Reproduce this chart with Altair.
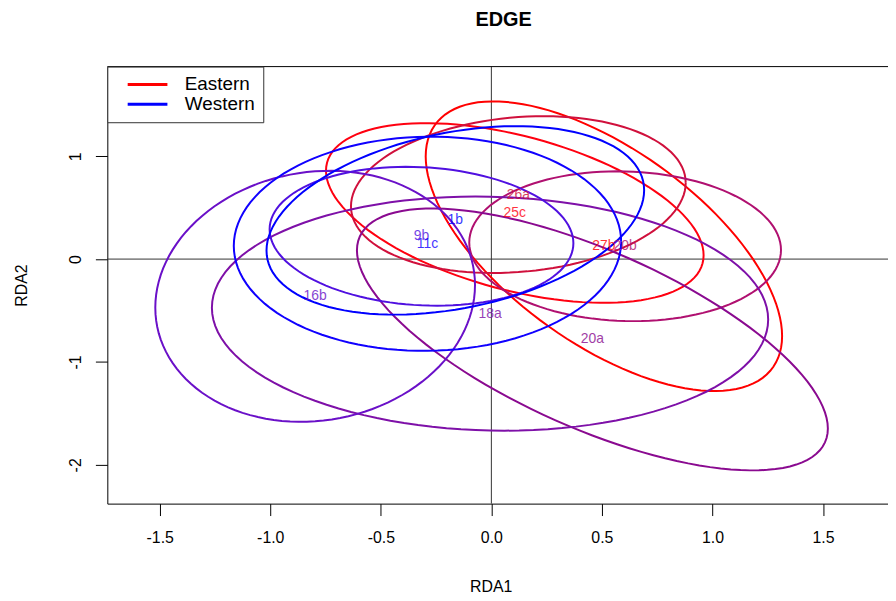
import altair as alt
import numpy as np
import pandas as pd

# ---- data ----
groups = ["27b", "25c", "26a", "20b", "20a", "18a", "16b", "9b", "11c", "1b"]
colors = ["#FF0000", "#FF0010", "#D0103C", "#B01070", "#8A0A90",
          "#7E10A8", "#6A10C8", "#5010E0", "#1000FF", "#0000FF"]
# ellipse centres (RDA1, RDA2)
cx = [0.509, 0.106, 0.122, 0.605, 0.457, -0.006, -0.797, -0.316, -0.289, -0.163]
cy = [0.125, 0.448, 0.627, 0.125, -0.781, -0.530, -0.362, 0.222, 0.149, 0.376]
# half extents along RDA1 / RDA2
half_w = [0.806, 0.854, 0.757, 0.705, 1.065, 1.258, 0.723, 0.687, 0.876, 0.854]
half_h = [1.408, 0.873, 0.762, 0.728, 1.273, 1.138, 1.220, 0.675, 1.041, 0.916]
# RDA2 of the right-most point relative to the centre, as a share of half_h
tilt = [-0.62, -0.47, 0.15, -0.05, -0.68, -0.05, 0.09, -0.10, 0.02, 0.32]

regions = ["Eastern", "Western"]
region_colors = ["#FF0000", "#0000FF"]

x_ticks = [-1.5, -1.0, -0.5, 0.0, 0.5, 1.0, 1.5]
y_ticks = [-2, -1, 0, 1]
X_DOM = [-1.737, 1.794]
Y_DOM = [-2.377, 1.871]

# ---- build outlines ----
t = np.linspace(0, 2 * np.pi, 121)
rows = []
for g, x0, y0, a, b, k in zip(groups, cx, cy, half_w, half_h, tilt):
    s = np.sqrt(1 - k * k)
    xs = x0 + a * np.cos(t)
    ys = y0 + b * (k * np.cos(t) + s * np.sin(t))
    for i, (xv, yv) in enumerate(zip(xs, ys)):
        rows.append({"group": g, "i": i, "x": xv, "y": yv})
ell = pd.DataFrame(rows)
cent = pd.DataFrame({"group": groups, "x": cx, "y": cy})
leg = pd.DataFrame({"region": regions, "x": [cx[0], cx[-1]], "y": [cy[0], cy[-1]]})

xs_ = alt.Scale(domain=X_DOM, nice=False, zero=False)
ys_ = alt.Scale(domain=Y_DOM, nice=False, zero=False)
gscale = alt.Scale(domain=groups, range=colors)

neg = "datum.value < 0 ? '-' + format(-datum.value, '{f}') : format(datum.value, '{f}')"
FONT = "Liberation Sans"

x_axis = alt.Axis(values=x_ticks, labelExpr=neg.format(f=".1f"), grid=False,
                  tickSize=12, tickColor="#000", domainColor="#000",
                  labelFontSize=16, labelPadding=14, labelColor="#000",
                  labelFont=FONT, title="RDA1", titleFont=FONT,
                  titleFontSize=16, titleFontWeight="normal", titleColor="#000",
                  titleX=386, titleY=83, titleBaseline="middle", titleAlign="center")
y_axis = alt.Axis(values=y_ticks, labelExpr=neg.format(f="d"), grid=False,
                  tickSize=12, tickColor="#000", domainColor="#000",
                  labelFontSize=16, labelPadding=12, labelColor="#000",
                  labelAngle=-90, labelAlign="center", labelBaseline="bottom",
                  labelFont=FONT, title="RDA2", titleFont=FONT,
                  titleFontSize=16, titleFontWeight="normal", titleColor="#000",
                  titleX=-86, titleY=220, titleBaseline="middle", titleAlign="center",
                  titleAngle=-90)

ellipses = alt.Chart(ell).mark_line(strokeWidth=2, clip=True).encode(
    x=alt.X("x:Q", scale=xs_, axis=x_axis),
    y=alt.Y("y:Q", scale=ys_, axis=y_axis),
    color=alt.Color("group:N", scale=gscale, legend=None),
    detail="group:N",
    order="i:Q",
)

labels = alt.Chart(cent).mark_text(fontSize=14, font=FONT, opacity=0.8).encode(
    x=alt.X("x:Q", scale=xs_),
    y=alt.Y("y:Q", scale=ys_),
    text="group:N",
    color=alt.Color("group:N", scale=gscale, legend=None),
)

legend_layer = alt.Chart(leg).mark_line(strokeWidth=3).encode(
    x=alt.X("x:Q", scale=xs_),
    y=alt.Y("y:Q", scale=ys_),
    color=alt.Color("region:N", scale=alt.Scale(domain=regions, range=region_colors),
                    legend=alt.Legend(orient="none", legendX=0, legendY=0, title=None,
                                      strokeColor="#333", fillColor="white",
                                      padding=8, clipHeight=20, symbolType="stroke",
                                      symbolSize=1600, symbolStrokeWidth=3,
                                      symbolOffset=11, labelFontSize=19, labelFont=FONT,
                                      labelColor="#000", labelOffset=16, rowPadding=0)),
)

vline = alt.Chart(pd.DataFrame({"x": [0.0]})).mark_rule(color="#333", strokeWidth=1).encode(
    x=alt.X("x:Q", scale=xs_))
hline = alt.Chart(pd.DataFrame({"y": [0.0]})).mark_rule(color="#333", strokeWidth=1).encode(
    y=alt.Y("y:Q", scale=ys_))
top = alt.Chart(pd.DataFrame({"y": [Y_DOM[1]]})).mark_rule(color="#000", strokeWidth=1).encode(
    y=alt.Y("y:Q", scale=ys_))

chart = alt.layer(vline, hline, top, ellipses, labels, legend_layer).resolve_scale(
    color="independent"
).properties(
    width=786, height=440,
    title=alt.TitleParams("EDGE", fontSize=20, fontWeight="bold", font=FONT,
                          anchor="middle", dx=6, offset=36, color="#000"),
    autosize=alt.AutoSizeParams(type="none"),
    padding={"left": 100, "top": 57, "right": 0, "bottom": 90},
).configure_view(stroke=None)

chart.save("out.html", embed_options={"renderer": "svg", "actions": False})
